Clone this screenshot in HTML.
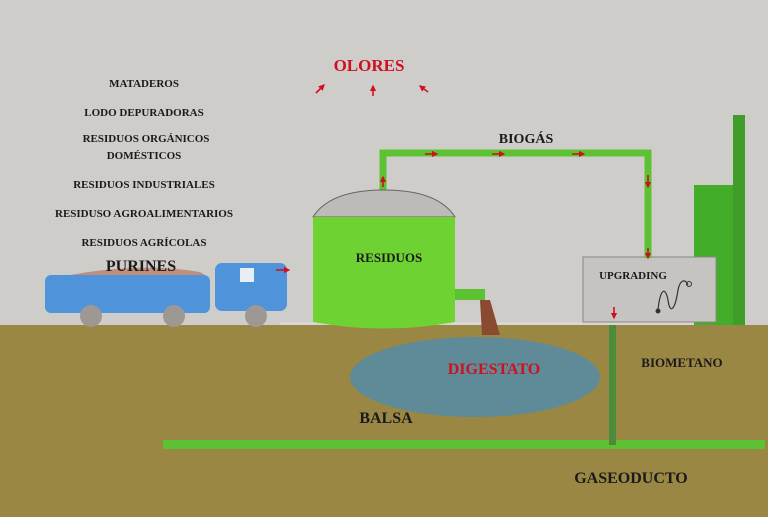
<!DOCTYPE html>
<html><head><meta charset="utf-8"><style>
html,body{margin:0;padding:0;background:#cfcdca;}
svg{display:block}
text{font-family:"Liberation Serif",serif;font-weight:bold;}
</style></head><body>
<svg width="768" height="517" viewBox="0 0 768 517" xmlns="http://www.w3.org/2000/svg">
<defs><marker id="a" viewBox="0 0 10 10" refX="8" refY="5" markerWidth="4" markerHeight="4" orient="auto"><path d="M0,0L10,5L0,10z" fill="#d0101f"/></marker></defs>
<rect width="768" height="517" fill="#cfcdca"/>
<rect x="0" y="325" width="768" height="192" fill="#9a8743"/>
<!-- pond -->
<ellipse cx="475" cy="377" rx="125" ry="40" fill="#5f8a97"/>
<!-- gaseoducto -->
<rect x="163" y="440" width="602" height="9" fill="#5cc232"/>
<rect x="609" y="318" width="7" height="127" fill="#4d8a3a"/>
<!-- ground line -->
<rect x="280" y="322" width="440" height="3" fill="#d8d6d3"/>
<!-- stacks -->
<rect x="694" y="185" width="42" height="140" fill="#43ad2a"/>
<rect x="733" y="115" width="12" height="210" fill="#3f9e2a"/>
<!-- upgrading box -->
<rect x="583" y="257" width="133" height="65" fill="#c6c4c1" stroke="#888" stroke-width="1"/>
<path d="M658,310 C660,290 665,285 668,300 C670,315 675,310 678,290 C680,280 685,278 688,285" fill="none" stroke="#333" stroke-width="1.2"/>
<circle cx="689" cy="284" r="2.5" fill="none" stroke="#333"/>
<circle cx="658" cy="311" r="2.5" fill="#333"/>
<!-- biogas pipe -->
<path d="M383,192 L383,153 L648,153 L648,258" fill="none" stroke="#5cc232" stroke-width="7"/>
<!-- tank -->
<path d="M313,217 Q330,190 384,190 Q438,190 455,217 Z" fill="#bdbbb8" stroke="#666" stroke-width="1"/>
<path d="M313,217 L455,217 L455,322 Q384,335 313,322 Z" fill="#6fd233"/>
<!-- outlet -->
<path d="M455,289 L485,289 L485,300 L455,300 Z" fill="#5cc232"/>
<path d="M480,300 L490,300 L500,335 L482,335 Z" fill="#8a4a32"/>
<!-- truck -->
<path d="M70,275 Q140,262 200,272 L205,275 Z" fill="#c08f7b"/>
<rect x="45" y="275" width="165" height="38" rx="6" fill="#4f93da"/>
<rect x="215" y="263" width="72" height="48" rx="7" fill="#4f93da"/>
<rect x="240" y="268" width="14" height="14" fill="#e8eef6"/>
<circle cx="91" cy="316" r="11" fill="#9e9893"/>
<circle cx="174" cy="316" r="11" fill="#9e9893"/>
<circle cx="256" cy="316" r="11" fill="#9e9893"/>
<!-- arrows -->
<g stroke="#d0101f" stroke-width="1.6" marker-end="url(#a)">
<line x1="276" y1="270" x2="289" y2="270"/>
<line x1="316" y1="93" x2="324" y2="85"/>
<line x1="373" y1="96" x2="373" y2="86"/>
<line x1="428" y1="92" x2="420" y2="86"/>
<line x1="383" y1="187" x2="383" y2="177"/>
<line x1="425" y1="154" x2="437" y2="154"/>
<line x1="492" y1="154" x2="504" y2="154"/>
<line x1="572" y1="154" x2="584" y2="154"/>
<line x1="648" y1="175" x2="648" y2="187"/>
<line x1="648" y1="248" x2="648" y2="258"/>
<line x1="614" y1="307" x2="614" y2="318"/>
</g>
<!-- text -->
<g fill="#1a1a1a" font-size="11" text-anchor="middle">
<text x="144" y="87">MATADEROS</text>
<text x="144" y="116">LODO DEPURADORAS</text>
<text x="146" y="142">RESIDUOS ORGÁNICOS</text>
<text x="144" y="159">DOMÉSTICOS</text>
<text x="144" y="188">RESIDUOS INDUSTRIALES</text>
<text x="144" y="217">RESIDUSO AGROALIMENTARIOS</text>
<text x="144" y="246">RESIDUOS AGRÍCOLAS</text>
<text x="141" y="271" font-size="16">PURINES</text>
<text x="526" y="143" font-size="14">BIOGÁS</text>
<text x="389" y="262" font-size="13">RESIDUOS</text>
<text x="633" y="279" font-size="11">UPGRADING</text>
<text x="682" y="367" font-size="13">BIOMETANO</text>
<text x="386" y="423" font-size="16">BALSA</text>
<text x="631" y="483" font-size="16">GASEODUCTO</text>
</g>
<text x="369" y="71" font-size="17" fill="#d0101f" text-anchor="middle">OLORES</text>
<text x="494" y="374" font-size="16" fill="#d0101f" text-anchor="middle">DIGESTATO</text>
</svg>
</body></html>
